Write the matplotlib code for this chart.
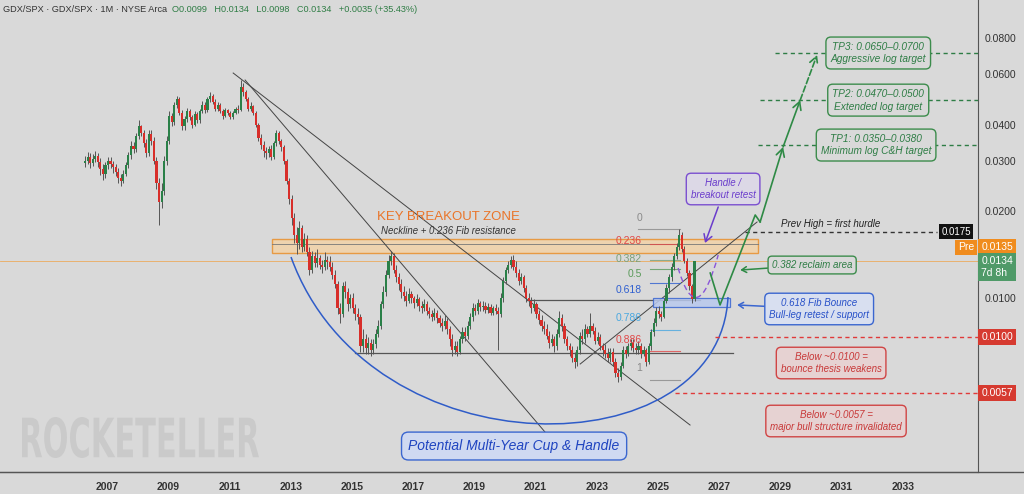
import numpy as np
import matplotlib
matplotlib.use('Agg')
import matplotlib.pyplot as plt
from matplotlib.path import Path
from matplotlib.patches import PathPatch, Rectangle
from matplotlib.textpath import TextPath
from matplotlib.font_manager import FontProperties
from matplotlib.transforms import Affine2D, blended_transform_factory
from matplotlib.lines import Line2D

plt.rcParams['font.family'] = ['Liberation Sans', 'DejaVu Sans']

# ---------------- data (GDX/SPX monthly) ----------------
start_year = 2006.28          # first monthly bar on the chart's time axis
first_open = 0.0295
closes = [
    0.0300, 0.0310, 0.0295, 0.0305, 0.0312, 0.0298, 0.0280, 0.0270, 0.0290, 0.0300, 0.0292, 0.0285,
    0.0275, 0.0262, 0.0255, 0.0270, 0.0290, 0.0315, 0.0338, 0.0330, 0.0365, 0.0395, 0.0375, 0.0345,
    0.0320, 0.0370, 0.0350, 0.0300, 0.0250, 0.0215, 0.0235, 0.0300, 0.0350, 0.0430, 0.0410, 0.0470,
    0.0490, 0.0440, 0.0395, 0.0420, 0.0445, 0.0425, 0.0400, 0.0435, 0.0415, 0.0445, 0.0470, 0.0450,
    0.0490, 0.0505, 0.0480, 0.0455, 0.0470, 0.0445, 0.0430, 0.0450, 0.0440, 0.0425, 0.0440, 0.0455,
    0.0450, 0.0540, 0.0520, 0.0490, 0.0455, 0.0465, 0.0440, 0.0400, 0.0360, 0.0340, 0.0325, 0.0318,
    0.0330, 0.0310, 0.0345, 0.0375, 0.0350, 0.0335, 0.0300, 0.0255, 0.0220, 0.0190, 0.0165, 0.0155,
    0.0175, 0.0150, 0.0160, 0.0145, 0.0125, 0.0140, 0.0132, 0.0138, 0.0130, 0.0128, 0.0136, 0.0133,
    0.0128, 0.0120, 0.0112, 0.0092, 0.0088, 0.0110, 0.0105, 0.0095, 0.0100, 0.0092, 0.0088, 0.0086,
    0.0068, 0.0072, 0.0067, 0.0070, 0.0066, 0.0069, 0.0075, 0.0080, 0.0095, 0.0105, 0.0120, 0.0135,
    0.0140, 0.0125, 0.0118, 0.0112, 0.0105, 0.0102, 0.0098, 0.0103, 0.0100, 0.0096, 0.0099, 0.0094,
    0.0092, 0.0095, 0.0090, 0.0088, 0.0086, 0.0089, 0.0085, 0.0082, 0.0080, 0.0083, 0.0078, 0.0072,
    0.0066, 0.0068, 0.0065, 0.0072, 0.0076, 0.0074, 0.0080, 0.0086, 0.0092, 0.0090, 0.0096, 0.0093,
    0.0094, 0.0091, 0.0093, 0.0089, 0.0092, 0.0090, 0.0088, 0.0100, 0.0115, 0.0125, 0.0130, 0.0136,
    0.0128, 0.0122, 0.0115, 0.0118, 0.0108, 0.0100, 0.0098, 0.0092, 0.0095, 0.0088, 0.0084, 0.0080,
    0.0078, 0.0074, 0.0070, 0.0072, 0.0068, 0.0075, 0.0085, 0.0080, 0.0072, 0.0068, 0.0066, 0.0062,
    0.0060, 0.0066, 0.0074, 0.0072, 0.0078, 0.0075, 0.0080, 0.0077, 0.0071, 0.0073, 0.0068, 0.0066,
    0.0064, 0.0062, 0.0065, 0.0060, 0.0055, 0.0053, 0.0058, 0.0066, 0.0064, 0.0068, 0.0070, 0.0067,
    0.0066, 0.0068, 0.0064, 0.0066, 0.0060, 0.0068, 0.0076, 0.0082, 0.0090, 0.0088, 0.0086, 0.0098,
    0.0108, 0.0118, 0.0128, 0.0140, 0.0150, 0.0166, 0.0148, 0.0135, 0.0122, 0.0110, 0.0099, 0.0134,
]
highs = [
    0.0312, 0.0322, 0.0318, 0.0316, 0.0325, 0.0320, 0.0306, 0.0292, 0.0298, 0.0310, 0.0308, 0.0300,
    0.0292, 0.0283, 0.0270, 0.0278, 0.0298, 0.0322, 0.0350, 0.0348, 0.0375, 0.0415, 0.0400, 0.0382,
    0.0358, 0.0382, 0.0385, 0.0362, 0.0308, 0.0262, 0.0250, 0.0312, 0.0365, 0.0445, 0.0440, 0.0480,
    0.0505, 0.0500, 0.0450, 0.0430, 0.0458, 0.0455, 0.0432, 0.0445, 0.0442, 0.0455, 0.0485, 0.0478,
    0.0500, 0.0520, 0.0512, 0.0490, 0.0480, 0.0475, 0.0452, 0.0458, 0.0455, 0.0448, 0.0448, 0.0462,
    0.0468, 0.0570, 0.0560, 0.0528, 0.0498, 0.0478, 0.0470, 0.0446, 0.0405, 0.0372, 0.0350, 0.0336,
    0.0338, 0.0340, 0.0352, 0.0382, 0.0380, 0.0358, 0.0340, 0.0305, 0.0262, 0.0228, 0.0198, 0.0176,
    0.0185, 0.0180, 0.0168, 0.0165, 0.0150, 0.0146, 0.0145, 0.0148, 0.0141, 0.0136, 0.0145, 0.0140,
    0.0140, 0.0133, 0.0125, 0.0115, 0.0096, 0.0114, 0.0115, 0.0108, 0.0103, 0.0104, 0.0095, 0.0092,
    0.0088, 0.0078, 0.0075, 0.0073, 0.0072, 0.0072, 0.0078, 0.0084, 0.0098, 0.0110, 0.0125, 0.0141,
    0.0146, 0.0143, 0.0130, 0.0122, 0.0116, 0.0110, 0.0106, 0.0108, 0.0106, 0.0102, 0.0103, 0.0101,
    0.0098, 0.0099, 0.0098, 0.0093, 0.0091, 0.0092, 0.0091, 0.0087, 0.0085, 0.0087, 0.0085, 0.0080,
    0.0075, 0.0071, 0.0071, 0.0074, 0.0079, 0.0079, 0.0083, 0.0089, 0.0096, 0.0095, 0.0099, 0.0098,
    0.0098, 0.0097, 0.0096, 0.0095, 0.0094, 0.0095, 0.0093, 0.0104, 0.0118, 0.0128, 0.0134, 0.0140,
    0.0141, 0.0134, 0.0126, 0.0122, 0.0120, 0.0111, 0.0104, 0.0101, 0.0099, 0.0097, 0.0091, 0.0087,
    0.0083, 0.0081, 0.0077, 0.0075, 0.0074, 0.0078, 0.0090, 0.0088, 0.0082, 0.0074, 0.0070, 0.0068,
    0.0065, 0.0068, 0.0076, 0.0078, 0.0081, 0.0080, 0.0089, 0.0082, 0.0079, 0.0076, 0.0075, 0.0070,
    0.0069, 0.0067, 0.0067, 0.0067, 0.0062, 0.0057, 0.0060, 0.0068, 0.0068, 0.0070, 0.0072, 0.0072,
    0.0070, 0.0071, 0.0070, 0.0068, 0.0067, 0.0070, 0.0078, 0.0085, 0.0093, 0.0094, 0.0090, 0.0100,
    0.0112, 0.0121, 0.0132, 0.0143, 0.0155, 0.0174, 0.0170, 0.0152, 0.0138, 0.0125, 0.0112, 0.0134,
]
lows = [
    0.0285, 0.0292, 0.0284, 0.0287, 0.0296, 0.0285, 0.0268, 0.0258, 0.0262, 0.0280, 0.0282, 0.0272,
    0.0265, 0.0250, 0.0245, 0.0250, 0.0265, 0.0284, 0.0305, 0.0318, 0.0322, 0.0358, 0.0365, 0.0335,
    0.0310, 0.0312, 0.0340, 0.0292, 0.0240, 0.0180, 0.0205, 0.0228, 0.0290, 0.0342, 0.0395, 0.0400,
    0.0458, 0.0432, 0.0385, 0.0385, 0.0410, 0.0415, 0.0390, 0.0395, 0.0405, 0.0405, 0.0438, 0.0440,
    0.0442, 0.0478, 0.0472, 0.0448, 0.0445, 0.0438, 0.0420, 0.0425, 0.0432, 0.0418, 0.0420, 0.0435,
    0.0440, 0.0445, 0.0505, 0.0482, 0.0448, 0.0448, 0.0432, 0.0392, 0.0352, 0.0330, 0.0310, 0.0305,
    0.0310, 0.0302, 0.0305, 0.0338, 0.0342, 0.0325, 0.0292, 0.0248, 0.0212, 0.0180, 0.0155, 0.0142,
    0.0148, 0.0145, 0.0146, 0.0140, 0.0120, 0.0122, 0.0128, 0.0128, 0.0126, 0.0122, 0.0125, 0.0126,
    0.0124, 0.0116, 0.0108, 0.0088, 0.0082, 0.0086, 0.0100, 0.0090, 0.0092, 0.0089, 0.0084, 0.0081,
    0.0065, 0.0065, 0.0064, 0.0064, 0.0063, 0.0064, 0.0067, 0.0073, 0.0078, 0.0092, 0.0102, 0.0117,
    0.0130, 0.0122, 0.0114, 0.0107, 0.0100, 0.0098, 0.0094, 0.0096, 0.0096, 0.0092, 0.0094, 0.0090,
    0.0089, 0.0090, 0.0087, 0.0085, 0.0083, 0.0084, 0.0082, 0.0079, 0.0077, 0.0078, 0.0075, 0.0068,
    0.0063, 0.0064, 0.0063, 0.0064, 0.0070, 0.0071, 0.0072, 0.0078, 0.0083, 0.0087, 0.0088, 0.0090,
    0.0090, 0.0089, 0.0089, 0.0087, 0.0087, 0.0088, 0.0066, 0.0086, 0.0097, 0.0112, 0.0122, 0.0127,
    0.0125, 0.0118, 0.0111, 0.0112, 0.0105, 0.0097, 0.0094, 0.0089, 0.0090, 0.0085, 0.0081, 0.0077,
    0.0075, 0.0072, 0.0067, 0.0068, 0.0065, 0.0066, 0.0073, 0.0077, 0.0070, 0.0066, 0.0063, 0.0060,
    0.0057, 0.0058, 0.0064, 0.0069, 0.0070, 0.0073, 0.0073, 0.0075, 0.0069, 0.0069, 0.0066, 0.0063,
    0.0062, 0.0060, 0.0060, 0.0058, 0.0053, 0.0051, 0.0052, 0.0057, 0.0062, 0.0063, 0.0066, 0.0065,
    0.0064, 0.0064, 0.0062, 0.0063, 0.0058, 0.0059, 0.0066, 0.0074, 0.0080, 0.0085, 0.0083, 0.0085,
    0.0096, 0.0104, 0.0115, 0.0125, 0.0137, 0.0147, 0.0145, 0.0132, 0.0119, 0.0107, 0.0096, 0.0098,
]

year_ticks = [2007, 2009, 2011, 2013, 2015, 2017, 2019, 2021, 2023, 2025, 2027, 2029, 2031, 2033]
price_ticks = [0.01, 0.02, 0.03, 0.04, 0.06, 0.08]
price_tick_labels = ['0.0100', '0.0200', '0.0300', '0.0400', '0.0600', '0.0800']

fib_labels = ['0', '0.236', '0.382', '0.5', '0.618', '0.786', '0.886', '1']
fib_levels = [0.01737, 0.0154, 0.01355, 0.01261, 0.01127, 0.00774, 0.00654, 0.00519]
fib_label_y = [0.01896, 0.01578, 0.01366, 0.01212, 0.01066, 0.00852, 0.00715, 0.00571]
fib_colors = ['#8a8a8a', '#e04848', '#7aa07a', '#5a9a5a', '#2f5fd0', '#4aa8e0', '#e04848', '#8a8a8a']

tp_levels = [0.0340, 0.0487, 0.0710]
tp_starts = [2028.27, 2028.34, 2028.83]
tp_texts = ['TP1: 0.0350\u20130.0380\nMinimum log C&H target',
            'TP2: 0.0470\u20130.0500\nExtended log target',
            'TP3: 0.0650\u20130.0700\nAggressive log target']
tp_box_x = [2032.13, 2032.20, 2032.20]

prev_high_level = 0.0170
invalid_levels = [0.00732, 0.00468]
invalid_starts = [2026.87, 2025.56]
invalid_labels = ['0.0100', '0.0057']

# projected path (time, price)
proj_t = [2026.71, 2027.03, 2028.18, 2028.34, 2029.09, 2029.65, 2030.20]
proj_p = [0.01221, 0.00946, 0.01943, 0.01837, 0.03347, 0.0487, 0.0699]

# ---------------- figure ----------------
BG = '#d9d9d9'
GREEN = '#2a8048'
RED = '#d82e2a'
W, H = 1024, 494
fig = plt.figure(figsize=(W / 100, H / 100), dpi=100, facecolor=BG)
ax = fig.add_axes([0, 22 / H, 978 / W, 472 / H])
ax.set_facecolor('none')
ax.set_yscale('log')
ax.set_xlim(2003.50, 2035.46)
ax.set_ylim(0.002486, 0.1085)

n = len(closes)
t = start_year + np.arange(n) / 12.0
c = np.array(closes)
o = np.array([first_open] + closes[:-1])
hi = np.array(highs)
lo = np.array(lows)
up = c >= o
colors = np.where(up, GREEN, RED)
ax.vlines(t, lo, hi, color='#555555', lw=0.7, zorder=3)
ax.bar(t, np.abs(c - o), bottom=np.minimum(o, c), width=0.07, color=colors, linewidth=0, zorder=4)

# axes styling
for s in ['top', 'left']:
    ax.spines[s].set_visible(False)
ax.spines['right'].set_color('#555555')
ax.spines['bottom'].set_color('#555555')
ax.yaxis.tick_right()
ax.set_yticks(price_ticks)
ax.set_yticklabels(price_tick_labels)
ax.yaxis.set_minor_locator(matplotlib.ticker.NullLocator())
ax.set_xticks(year_ticks)
ax.set_xticklabels([str(y) for y in year_ticks], fontweight='bold')
ax.tick_params(axis='x', length=0, pad=7, labelsize=7.5, labelcolor='#333333')
ax.tick_params(axis='y', length=0, pad=5, labelsize=7.5, labelcolor='#333333')
fig.add_artist(Line2D([0, 1], [22 / H, 22 / H], transform=fig.transFigure, color='#555555', lw=1))

# header
fig.text(3 / W, 1 - 10 / H, 'GDX/SPX \u00b7 GDX/SPX \u00b7 1M \u00b7 NYSE Arca', fontsize=6.6, color='#333333', va='center')
fig.text(172 / W, 1 - 10 / H, 'O0.0099   H0.0134   L0.0098   C0.0134   +0.0035 (+35.43%)', fontsize=6.6,
         color='#2f7d45', va='center')

# watermark
tp = TextPath((0, 0), 'ROCKETELLER', size=100, prop=FontProperties(family='DejaVu Sans', weight='bold'))
ext = tp.get_extents()
wm_tr = Affine2D().translate(-ext.x0, -ext.y0).scale(237 / ext.width, 41 / ext.height).translate(22, H - 458).scale(1 / 100) + fig.dpi_scale_trans
fig.add_artist(PathPatch(tp, transform=wm_tr, fc='#cacaca', ec='none', zorder=-1))

# price line (last close)
ax.axhline(closes[-1], color='#f0a040', lw=0.6, alpha=0.8, zorder=2)

# key breakout zone
ax.add_patch(Rectangle((2012.39, 0.01433), 2028.27 - 2012.39, 0.01603 - 0.01433,
                       fc='#f2d3a8', ec='#e8902e', lw=1, alpha=0.85, zorder=2))
ax.plot([2012.39, 2028.27], [0.0154, 0.0154], color='#777777', lw=0.6, zorder=2)
ax.text(2018.14, 0.01912, 'KEY BREAKOUT ZONE', color='#ea7428', fontsize=9.5, ha='center', va='center', zorder=6)
ax.text(2018.14, 0.01709, 'Neckline + 0.236 Fib resistance', color='#333333', fontsize=6.9, style='italic',
        ha='center', va='center', zorder=6)

# trend lines
tl = dict(color='#444444', lw=0.7, zorder=2)
ax.plot([2011.51, 2021.31], [0.0572, 0.003423], **tl)
ax.plot([2011.12, 2026.05], [0.0605, 0.00362], **tl)
ax.plot([2022.46, 2028.24], [0.005898, 0.01837], **tl)
ax.plot([2015.10, 2027.46], [0.00644, 0.00644], color='#555555', lw=0.9, zorder=2)
ax.plot([2020.73, 2026.38], [0.00984, 0.00984], color='#555555', lw=0.9, zorder=2)

# fib levels
for lab, lev, ly, col in zip(fib_labels, fib_levels, fib_label_y, fib_colors):
    x0 = 2024.35 if lab == '0' else 2024.75
    ax.plot([x0, 2025.73], [lev, lev], color=col, lw=0.8, alpha=0.8, zorder=2)
    ax.text(2024.48, ly, lab, color=col, fontsize=7.5, ha='right', va='center', zorder=6)

# support box
ax.add_patch(Rectangle((2024.84, 0.00931), 2027.36 - 2024.84, 0.0100 - 0.00931,
                       fc='#b9c9ee', ec='#3a66d0', lw=0.9, alpha=0.85, zorder=2))

# cup arc
cup = Path([(2013.01, 0.01388), (2015.59, 0.002427), (2027.03, 0.002526), (2027.29, 0.01008)],
           [Path.MOVETO, Path.CURVE4, Path.CURVE4, Path.CURVE4])
ax.add_patch(PathPatch(cup, fill=False, ec='#2f5cc8', lw=1.1, zorder=3))
ax.text(2020.30, 0.00306, 'Potential Multi-Year Cup & Handle', color='#1f44c0', fontsize=10, style='italic',
        ha='center', va='center', zorder=7,
        bbox=dict(boxstyle='round,pad=0.5,rounding_size=0.5', fc='#cfd9f1', ec='#3a66d0', lw=1))

# handle
handle = Path([(2025.66, 0.01271), (2026.28, 0.00756), (2026.97, 0.01411)],
              [Path.MOVETO, Path.CURVE3, Path.CURVE3])
ax.add_patch(PathPatch(handle, fill=False, ec='#8a55d8', lw=1.0, ls=(0, (4, 2.5)), zorder=5))
ax.text(2027.13, 0.02392, 'Handle /\nbreakout retest', color='#6a3ccc', fontsize=7, style='italic',
        ha='center', va='center', linespacing=1.35, zorder=7,
        bbox=dict(boxstyle='round,pad=0.45,rounding_size=0.5', fc='#dcd8e6', ec='#7b4fd0', lw=1))
ax.annotate('', xy=(2026.54, 0.01553), xytext=(2026.97, 0.02071),
            arrowprops=dict(arrowstyle='->,head_length=0.5,head_width=0.3', color='#6a3ccc', lw=1.1,
                            shrinkA=0, shrinkB=0), zorder=7)

# projected path
ax.plot(proj_t[:4], proj_p[:4], color='#2e8a45', lw=1.2, zorder=5)
for i in (3, 4):
    ax.annotate('', xy=(proj_t[i + 1], proj_p[i + 1]), xytext=(proj_t[i], proj_p[i]),
                arrowprops=dict(arrowstyle='->,head_length=0.55,head_width=0.3', color='#2e8a45', lw=1.2,
                                shrinkA=0, shrinkB=0), zorder=5)
ax.annotate('', xy=(proj_t[6], proj_p[6]), xytext=(proj_t[5], proj_p[5]),
            arrowprops=dict(arrowstyle='->,head_length=0.55,head_width=0.3', color='#2e8a45', lw=1.2,
                            ls='--', shrinkA=0, shrinkB=0), zorder=5)

# target lines and boxes
for lev, x0, txt, bx in zip(tp_levels, tp_starts, tp_texts, tp_box_x):
    ax.plot([x0, 2035.46], [lev, lev], color='#2e7d45', lw=1.0, ls=(0, (3, 2.5)), zorder=4)
    ax.text(bx, lev, txt, color='#2e7d45', fontsize=7.3, style='italic', ha='center', va='center',
            linespacing=1.35, zorder=7,
            bbox=dict(boxstyle='round,pad=0.45,rounding_size=0.5', fc=BG, ec='#3c8c4c', lw=1))

# prev high
ax.plot([2027.85, 2034.12], [prev_high_level, prev_high_level], color='#333333', lw=1.0, ls=(0, (3, 2.5)), zorder=4)
ax.text(2030.63, 0.01808, 'Prev High = first hurdle', color='#222222', fontsize=7, style='italic',
        ha='center', va='center', zorder=7)
ax.text(2034.75, prev_high_level, '0.0175', color='white', fontsize=7, ha='center', va='center', zorder=8,
        bbox=dict(boxstyle='square,pad=0.25', fc='#111111', ec='none'))
ax.text(2035.07, 0.0150, 'Pre', color='white', fontsize=7.5, ha='center', va='center', zorder=8,
        bbox=dict(boxstyle='square,pad=0.25', fc='#f08c1e', ec='none'))

# 0.382 reclaim / 0.618 bounce
ax.annotate('0.382 reclaim area', xy=(2027.69, 0.01251), xytext=(2030.04, 0.01302),
            color='#2e7d45', fontsize=7, style='italic', ha='center', va='center', zorder=7,
            bbox=dict(boxstyle='round,pad=0.4,rounding_size=0.4', fc=BG, ec='#3c8c4c', lw=1),
            arrowprops=dict(arrowstyle='->,head_length=0.5,head_width=0.3', color='#2e8a45', lw=1.1,
                            shrinkA=0, shrinkB=0))
ax.annotate('0.618 Fib Bounce\nBull-leg retest / support', xy=(2027.59, 0.00946), xytext=(2030.27, 0.00916),
            color='#2750c8', fontsize=7, style='italic', ha='center', va='center', linespacing=1.35, zorder=7,
            bbox=dict(boxstyle='round,pad=0.45,rounding_size=0.5', fc='#d8dff0', ec='#3a66d0', lw=1),
            arrowprops=dict(arrowstyle='->,head_length=0.5,head_width=0.3', color='#3a66d0', lw=1.1,
                            shrinkA=0, shrinkB=0))

# invalidation lines
for lev, x0 in zip(invalid_levels, invalid_starts):
    ax.plot([x0, 2035.46], [lev, lev], color='#e03a3a', lw=1.0, ls=(0, (3, 2.5)), zorder=4)
ax.text(2030.66, 0.005945, 'Below ~0.0100 =\nbounce thesis weakens', color='#c83838', fontsize=7,
        style='italic', ha='center', va='center', linespacing=1.35, zorder=7,
        bbox=dict(boxstyle='round,pad=0.45,rounding_size=0.5', fc='#e6d2d2', ec='#d04545', lw=1))
ax.text(2030.82, 0.003738, 'Below ~0.0057 =\nmajor bull structure invalidated', color='#c83838', fontsize=7,
        style='italic', ha='center', va='center', linespacing=1.35, zorder=7,
        bbox=dict(boxstyle='round,pad=0.45,rounding_size=0.5', fc='#e6d2d2', ec='#d04545', lw=1))

# axis badges
btr = blended_transform_factory(ax.transAxes, ax.transData)
def badge(y, s, fc):
    ax.text(1.0035, y, s, transform=btr, color='white', fontsize=7.5, ha='left', va='center', clip_on=False,
            zorder=9, linespacing=1.25,
            bbox=dict(boxstyle='square,pad=0.3', fc=fc, ec='none'))
badge(0.0150, '0.0135', '#f08c1e')
badge(0.01281, '0.0134\n7d 8h', '#4f9a68')
for lev, lab in zip(invalid_levels, invalid_labels):
    badge(lev, lab, '#d63a30')

fig.savefig('out.png', dpi=100, facecolor=BG)
